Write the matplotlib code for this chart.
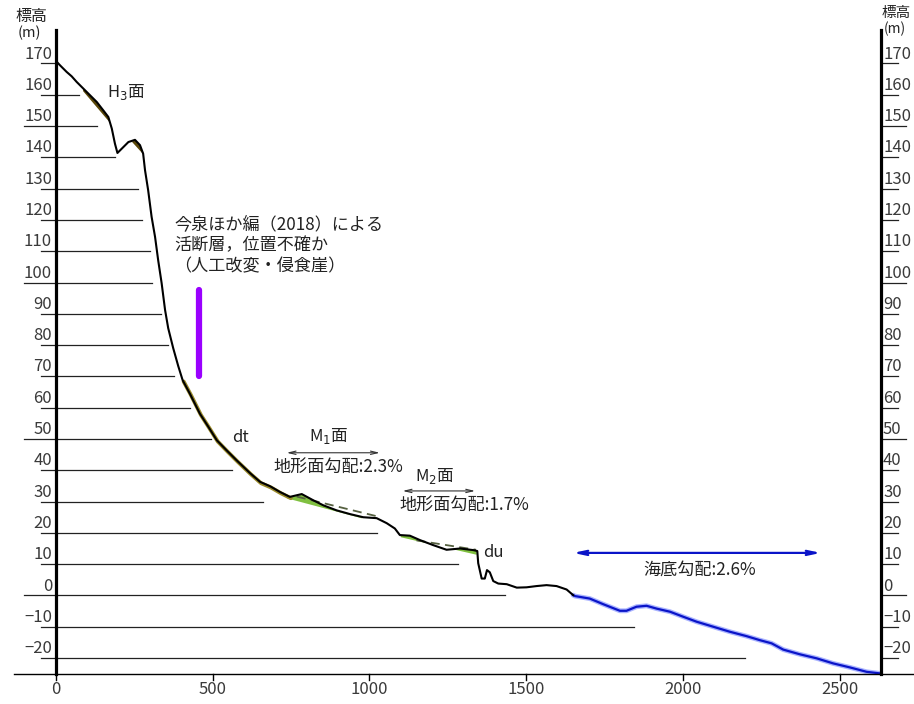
import matplotlib
matplotlib.use("Agg")
import matplotlib.pyplot as plt
import numpy as np
from matplotlib.transforms import offset_copy

plt.rcParams['font.family'] = ['Noto Sans CJK JP', 'DejaVu Sans']

# ---------------- data ----------------
land_x = [0, 13, 23, 34, 50, 66, 87, 108, 130, 151, 167, 178, 188, 196, 215, 231, 252, 268,
          278, 284, 294, 305, 316, 326, 337, 348, 358, 374, 390, 404, 427, 459, 486, 513,
          544, 576, 619, 651, 683, 714, 746, 784, 821, 853, 895, 938, 980, 1023, 1055,
          1081, 1097, 1129, 1161, 1203, 1246, 1289, 1331, 1344, 1347, 1358, 1368, 1375,
          1384, 1395, 1411, 1438, 1470, 1501, 1533, 1565, 1597, 1629, 1650]
land_y = [170.8, 169.4, 168.4, 167.3, 165.9, 164.1, 162.0, 159.9, 157.7, 155.0, 152.9, 149.2,
          144.4, 141.4, 143.3, 144.9, 145.6, 143.9, 141.2, 135.9, 129.5, 121.0, 114.6, 107.1,
          99.8, 91.2, 85.4, 79.0, 73.3, 68.8, 64.5, 58.1, 53.9, 49.6, 46.4, 43.2, 39.1, 36.3,
          34.9, 33.1, 31.5, 32.4, 30.4, 28.8, 27.2, 26.0, 25.0, 24.7, 23.1, 21.4, 19.3, 19.1,
          17.7, 16.1, 14.6, 15.0, 14.5, 14.2, 10.3, 5.4, 5.4, 8.1, 7.4, 4.6, 3.8, 3.6, 2.5,
          2.6, 3.0, 3.3, 3.0, 1.9, 0.1]

sea_x = [1650, 1656, 1703, 1746, 1799, 1820, 1852, 1884, 1916, 1959, 2001, 2044, 2097, 2150,
         2203, 2246, 2283, 2320, 2373, 2427, 2479, 2533, 2586, 2628]
sea_y = [0.1, -0.2, -1.0, -2.8, -4.9, -4.9, -3.6, -3.3, -4.2, -5.2, -6.8, -8.4, -10.0, -11.6,
         -13.0, -14.3, -15.3, -17.3, -18.8, -20.1, -21.7, -23.0, -24.4, -24.9]

levels = [170, 160, 150, 140, 130, 120, 110, 100, 90, 80, 70, 60, 50, 40, 30, 20, 10, 0, -10, -20]
level_line_end = [0, 73, 132, 188, 261, 273, 299, 307, 335, 356, 377, 427, 494, 562, 660,
                  1024, 1282, 1432, 1844, 2198]
x_ticks = [0, 500, 1000, 1500, 2000, 2500]

# surfaces (straight reference lines) : start, end points
m1_dash = [(768, 31.6), (1020, 25.4)]
m1_base = [(735, 31.2), (975, 24.8)]
m2_dash = [(1150, 17.6), (1340, 14.6)]
m2_base = [(1100, 18.6), (1342, 13.0)]
h3_base = [(85, 161.3), (170, 151.3)]
peak_base = [(240, 145.2), (278, 141.0)]
dt_range = (400, 770)

fault_x = 456
fault_y = (70.2, 97.6)

m1_arrow = (736, 1033, 45.6)
m2_arrow = (1106, 1337, 33.4)
sea_arrow = (1650, 2440, 13.6)

# ---------------- figure ----------------
W, H = 914, 704
fig = plt.figure(figsize=(W / 100, H / 100), dpi=100)
L, R, B, T = 56, 881, 674, 30
ax = fig.add_axes([L / W, (H - B) / H, (R - L) / W, (B - T) / H])
ax.set_xlim(0, 2632)
ax.set_ylim(-25.1, 180.7)
ax.axis('off')

ppx = 2632 / (R - L)  # data units per pixel in x


def px(p):
    return (p - L) * ppx


lcol = '#222222'
tkc = '#3a3a3a'
# level lines
for lv, xe in zip(levels, level_line_end):
    lab = f"{lv}" if lv >= 0 else f"\u2212{-lv}"
    start = px(24) if lv % 50 == 0 else px(41)
    ax.plot([start, xe], [lv, lv], color=lcol, lw=0.9, clip_on=False, zorder=1)
    ax.text(px(52), lv + 0.3, lab, ha='right', va='bottom',
            fontsize=12, color=tkc, clip_on=False)
    rend = px(906) if lv % 50 == 0 else px(898)
    ax.plot([px(R), rend], [lv, lv], color=lcol, lw=0.9, clip_on=False, zorder=1)
    ax.text(px(883), lv + 0.3, lab, ha='left', va='bottom',
            fontsize=12, color=tkc, clip_on=False)

# axes lines
ax.plot([0, 0], [-25.1, 180.7], color='black', lw=2.3, clip_on=False, zorder=5)
ax.plot([2632, 2632], [-25.1, 180.7], color='black', lw=2.3, clip_on=False, zorder=5)
ax.plot([px(14), px(914)], [-25.1, -25.1], color='black', lw=1.0, clip_on=False, zorder=5)
for xt in x_ticks:
    ax.plot([xt, xt], [-25.1, -27.0], color='black', lw=1.0, clip_on=False)
    ax.text(xt, -27.4, f"{xt}", ha='center', va='top', fontsize=12, color=tkc, clip_on=False)

lx = np.array(land_x, float)
ly = np.array(land_y, float)


def fill_surface(base, color):
    (x0, y0), (x1, y1) = base
    xs = np.linspace(x0, x1, 200)
    prof = np.interp(xs, lx, ly)
    line = y0 + (y1 - y0) * (xs - x0) / (x1 - x0)
    ax.fill_between(xs, line, prof, where=prof > line, color=color, lw=0, zorder=2,
                    interpolate=True)


fill_surface(h3_base, '#5a4708')
fill_surface(peak_base, '#5a4708')
fill_surface(m1_base, '#80c040')
fill_surface(m2_base, '#80c040')

# olive halo along dt slope
mask = (lx >= dt_range[0]) & (lx <= dt_range[1])
off = offset_copy(ax.transData, fig=fig, x=1.0, y=-1.3, units='dots')
ax.plot(lx[mask], ly[mask], color='#9a8a2a', lw=2.8, transform=off, zorder=3,
        solid_capstyle='round')

# dashed surfaces
for d in (m1_dash, m2_dash):
    ax.plot([d[0][0], d[1][0]], [d[0][1], d[1][1]], color='#556040', lw=1.3,
            dashes=(5, 3), zorder=3)

# profile
ax.plot(sea_x, sea_y, color='#aab4ff', lw=3.5, zorder=3, solid_capstyle='round')
ax.plot(sea_x, sea_y, color='#0a14c8', lw=1.6, zorder=4)
ax.plot(land_x, land_y, color='black', lw=1.5, zorder=4)

# fault bar
ax.plot([fault_x, fault_x], list(fault_y), color='#9a00ff', lw=4.5, solid_capstyle='round', zorder=4)

# arrows
arrow_kw = dict(arrowstyle='<->,head_length=0.5,head_width=0.12', color='#333333', lw=0.8,
                shrinkA=0, shrinkB=0)
for a in (m1_arrow, m2_arrow):
    ax.annotate('', xy=(a[0], a[2]), xytext=(a[1], a[2]), arrowprops=arrow_kw)
ax.annotate('', xy=(sea_arrow[0], sea_arrow[2]), xytext=(sea_arrow[1], sea_arrow[2]),
            arrowprops=dict(arrowstyle='<->,head_length=0.7,head_width=0.15', color='#0a14c8',
                            lw=1.6, shrinkA=0, shrinkB=0))

tc = '#222222'
ax.text(px(107), 160.8, r"H$_3$面", fontsize=12, ha='left', va='center', color=tc)
ax.text(px(174), 112.0, "今泉ほか編（2018）による\n活断層，位置不確か\n（人工改変・侵食崖）",
        fontsize=12.3, ha='left', va='center', color=tc, linespacing=1.22)
ax.text(px(232), 50.6, "dt", fontsize=12, ha='left', va='center', color=tc)
ax.text(871, 50.8, r"M$_1$面", fontsize=12, ha='center', va='center', color=tc)
ax.text(900, 41.2, "地形面勾配:2.3%", fontsize=12.3, ha='center', va='center', color=tc)
ax.text(1209, 38.3, r"M$_2$面", fontsize=12, ha='center', va='center', color=tc)
ax.text(1302, 28.8, "地形面勾配:1.7%", fontsize=12.3, ha='center', va='center', color=tc)
ax.text(px(483), 13.8, "du", fontsize=12, ha='left', va='center', color=tc)
ax.text(2052, 8.3, "海底勾配:2.6%", fontsize=12.3, ha='center', va='center', color=tc)

# axis titles
ax.text(px(31), 184.9, "標高", fontsize=11.5, ha='center', va='center', color=tc, clip_on=False)
ax.text(px(29), 179.8, "(m)", fontsize=10.5, ha='center', va='center', color=tc, clip_on=False)
ax.text(px(882), 186.2, "標高", fontsize=10.5, ha='left', va='center', color=tc, clip_on=False)
ax.text(px(884), 180.9, "(m)", fontsize=10, ha='left', va='center', color=tc, clip_on=False)

fig.savefig("out.png", dpi=100)
